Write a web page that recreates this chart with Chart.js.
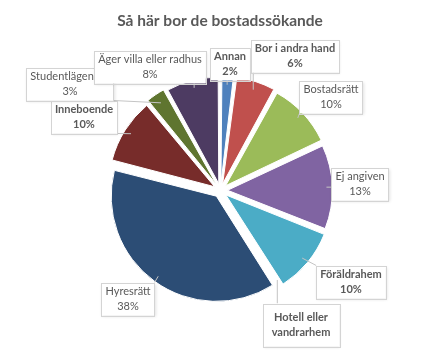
<!DOCTYPE html>
<html>
<head>
<meta charset="utf-8">
<script src="https://cdn.jsdelivr.net/npm/chart.js@4.4.1/dist/chart.umd.min.js"></script>
<style>
  html, body { margin: 0; background: #fff; }
  #wrap { width: 425px; height: 363px; }
</style>
</head>
<body>
<div id="wrap"><canvas id="bostadChart" width="425" height="363"></canvas></div>
<script>
// data
const chartTitle = 'Så här bor de bostadssökande'
const categories = ['Annan', 'Bor i andra hand', 'Bostadsrätt', 'Ej angiven', 'Föräldrahem',
  'Hotell eller vandrarhem', 'Hyresrätt', 'Inneboende', 'Studentlägenhet', 'Äger villa eller radhus']
const shares = [2, 6, 10, 13, 10, 0, 38, 10, 3, 8]

// looks
const colors = ['#4F81BD', '#C0504D', '#9BBB59', '#8064A2', '#4BACC6',
  '#F79646', '#2C4D75', '#772C2A', '#5F7530', '#4D3B62']
const boldLabel = [true, true, false, false, true, true, false, true, false, false]
// where each callout box sits (centre)
const boxPos = [[230, 64], [295, 56], [331, 97], [360, 184], [351, 282],
  [301, 325], [128, 299], [84, 117], [70, 84], [150, 67]]
const textColor = '#595959'
const fontFamily = 'Lato, "Open Sans", sans-serif'
const fontSize = 11
const lineH = 14.5

const labelLines = (i) => {
  if (shares[i] === 0) return ['Hotell eller', 'vandrarhem']
  return [categories[i], shares[i] + '%']
}

const callouts = {
  id: 'callouts',
  afterDraw(chart) {
    const ctx = chart.ctx
    const meta = chart.getDatasetMeta(0)
    ctx.save()
    // title
    ctx.font = `bold 15.5px ${fontFamily}`
    ctx.fillStyle = textColor
    ctx.textAlign = 'center'
    ctx.textBaseline = 'middle'
    ctx.fillText(chartTitle, 220, 21)

    meta.data.forEach((arc, i) => {
      const p = arc.getProps(['x', 'y', 'startAngle', 'endAngle', 'outerRadius'], true)
      const mid = (p.startAngle + p.endAngle) / 2
      const shift = arc.options.offset / 4
      const r = p.outerRadius + shift - 4
      const ax = p.x + Math.cos(mid) * r
      const ay = p.y + Math.sin(mid) * r

      const lines = labelLines(i)
      ctx.font = `${boldLabel[i] ? 'bold ' : ''}${fontSize}px ${fontFamily}`
      // the empty-slice box is drawn roomier, as in the original
      const extra = shares[i] === 0 ? 10 : 0
      const w = Math.max(...lines.map(l => ctx.measureText(l).width)) + 8 + extra
      const h = lines.length * lineH + 4 + extra
      const [cx, cy] = boxPos[i]
      const x0 = cx - w / 2, y0 = cy - h / 2

      // leader line
      const nx = Math.min(Math.max(ax, x0), x0 + w)
      const ny = Math.min(Math.max(ay, y0), y0 + h)
      ctx.strokeStyle = '#c4c4c4'
      ctx.lineWidth = 1
      ctx.beginPath()
      ctx.moveTo(nx, ny)
      ctx.lineTo(ax, ay)
      ctx.stroke()

      // box
      ctx.shadowColor = 'rgba(0,0,0,0.12)'
      ctx.shadowBlur = 3
      ctx.shadowOffsetX = 1
      ctx.shadowOffsetY = 1
      ctx.fillStyle = '#fff'
      ctx.fillRect(x0, y0, w, h)
      ctx.shadowColor = 'transparent'
      ctx.strokeStyle = '#d4d4d4'
      ctx.strokeRect(Math.round(x0) + 0.5, Math.round(y0) + 0.5, Math.round(w), Math.round(h))

      ctx.fillStyle = textColor
      lines.forEach((l, k) => {
        ctx.fillText(l, cx, cy + (k - (lines.length - 1) / 2) * lineH)
      })
    })
    ctx.restore()
  }
}

const ctx = document.getElementById('bostadChart').getContext('2d')
new Chart(ctx, {
  type: 'pie',
  data: {
    labels: categories,
    datasets: [{
      data: shares,
      backgroundColor: colors,
      borderColor: '#ffffff',
      borderWidth: 1,
      offset: 28
    }]
  },
  options: {
    responsive: false,
    animation: false,
    layout: { padding: { left: 103, right: 87, top: 73, bottom: 55 } },
    plugins: {
      legend: { display: false },
      tooltip: { enabled: false }
    }
  },
  plugins: [callouts]
})
</script>
</body>
</html>
